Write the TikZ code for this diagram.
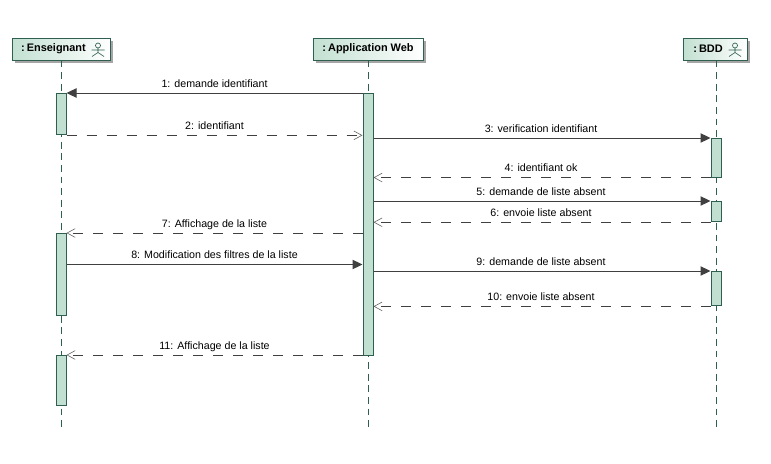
\documentclass[tikz,border=0pt]{standalone}
\usepackage{fontspec}
\setmainfont{Liberation Sans}
\usetikzlibrary{arrows.meta,shadows}
\definecolor{umlline}{HTML}{2F5F50}
\definecolor{umlfill}{HTML}{C2E0D2}
\definecolor{msgc}{HTML}{404040}
\tikzset{
  x=0.75pt,y=-0.75pt,
  head/.style={draw=umlline,line width=0.75pt,left color=umlfill,right color=white,
    minimum height=16.5pt,inner sep=0pt,font=\fontsize{8.2}{10}\selectfont\bfseries,
    general shadow={fill=black!35,shadow xshift=2.2pt,shadow yshift=-2.2pt}},
  lifeline/.style={draw=umlline,line width=0.75pt,dash pattern=on 5.2pt off 3.5pt},
  act/.style={draw=umlline,line width=0.75pt,fill=umlfill,minimum width=7.5pt,inner sep=0pt,anchor=north},
  syncmsg/.style={draw=msgc,line width=0.75pt,-{Triangle[length=7.5pt,width=7pt,fill=msgc]}},
  retmsg/.style={draw=msgc,line width=0.6pt,dash pattern=on 7.5pt off 7.5pt,-{Straight Barb[length=6pt,width=6.5pt,line width=0.45pt,color=msgc!80]}},
  msglabel/.style={font=\fontsize{8}{9}\selectfont,text=black,inner sep=0pt,anchor=base},
  actor/.style={draw=umlline,line width=0.5pt}
}
\begin{document}
\begin{tikzpicture}
\useasboundingbox (0,0) rectangle (771,464);
\fill[white] (0,0) rectangle (771,464);
% lifeline ends
\coordinate (endE) at (61,428);
\coordinate (endA) at (368,428);
\coordinate (endB) at (716,428);
% heads
\node[head,minimum width=73.5pt,text width=73.5pt,align=left] (ens) at (61,49) {\hspace{6.8pt}:\hspace{1.6pt}Enseignant};
\node[head,minimum width=82.5pt] (app) at (368,49) {:\hspace{1.6pt}Application Web};
\node[head,minimum width=47.3pt,text width=47.3pt,align=left] (bdd) at (715.5,49) {\hspace{7pt}:\hspace{1.6pt}BDD};
% actor icons
\foreach \cx in {98,735}{
  \draw[actor] (\cx,45.5) circle (2.5);
  \draw[actor] (\cx,48) -- (\cx,52.5) (\cx-6.5,50) -- (\cx+6.5,50) (\cx-6,56.5) -- (\cx,52.5) -- (\cx+6,56.5);
}
% lifelines
\draw[lifeline] (ens.south) -- (endE);
\draw[lifeline] (app.south) -- (endA);
\draw[lifeline] (bdd.south -| endB) -- (endB);
% activations
\node[act,minimum height=31pt] (e1) at (61,93) {};
\node[act,minimum height=61.2pt] (e2) at (61,233) {};
\node[act,minimum height=37.2pt] (e3) at (61,355) {};
\node[act,minimum height=196.4pt] (a1) at (368,93) {};
\node[act,minimum height=28.9pt] (b1) at (716,138) {};
\node[act,minimum height=15.2pt] (b2) at (716,201) {};
\node[act,minimum height=25.8pt] (b3) at (716,271) {};
% messages
\draw[syncmsg] (a1.north west) -- (e1.north east);
\node[msglabel] at (214.5,87) {1:\hspace{3pt}demande identifiant};
\draw[retmsg] (e1.south east) -- (a1.west |- e1.south);
\node[msglabel] at (214.5,129) {2:\hspace{3pt}identifiant};
\draw[syncmsg] (a1.east |- b1.north) -- (b1.north west);
\node[msglabel] at (541,132) {3:\hspace{3pt}verification identifiant};
\draw[retmsg] (b1.south west) -- (a1.east |- b1.south);
\node[msglabel] at (541,171) {4:\hspace{3pt}identifiant ok};
\draw[syncmsg] (a1.east |- b2.north) -- (b2.north west);
\node[msglabel] at (541,195) {5:\hspace{3pt}demande de liste absent};
\draw[retmsg] (b2.south west) -- (a1.east |- b2.south);
\node[msglabel] at (541,216) {6:\hspace{3pt}envoie liste absent};
\draw[retmsg] (a1.west |- e2.north) -- (e2.north east);
\node[msglabel] at (214.5,227) {7:\hspace{3pt}Affichage de la liste};
\coordinate (m8) at (e2.east |- 0,264.5);
\draw[syncmsg] (m8) -- (a1.west |- m8);
\node[msglabel] at (214.5,258.5) {8:\hspace{3pt}Modification des filtres de la liste};
\draw[syncmsg] (a1.east |- b3.north) -- (b3.north west);
\node[msglabel] at (541,265) {9:\hspace{3pt}demande de liste absent};
\draw[retmsg] (b3.south west) -- (a1.east |- b3.south);
\node[msglabel] at (541,300) {10:\hspace{3pt}envoie liste absent};
\draw[retmsg] (a1.west |- e3.north) -- (e3.north east);
\node[msglabel] at (214.5,349) {11:\hspace{3pt}Affichage de la liste};
\end{tikzpicture}
\end{document}
